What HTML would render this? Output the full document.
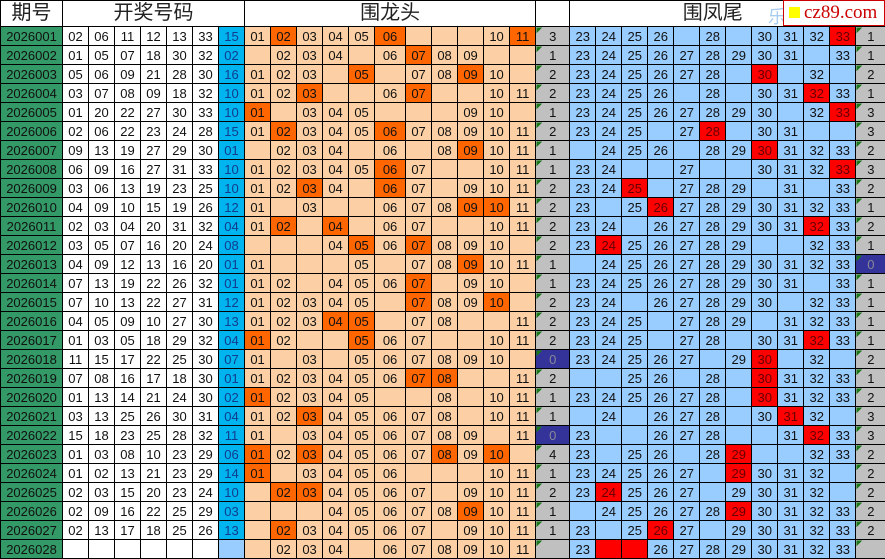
<!DOCTYPE html>
<html><head><meta charset="utf-8"><style>
html,body{margin:0;padding:0;background:#fff;}
body{width:885px;height:558px;overflow:hidden;position:relative;font-family:"Liberation Sans","Noto Sans CJK SC",sans-serif;}
table{border-collapse:collapse;table-layout:fixed;width:885px;position:absolute;left:0;top:0;}
td{border:1px solid #000;padding:0;text-align:center;font-size:13px;line-height:17px;height:18px;overflow:hidden;white-space:nowrap;color:#111;}
tr.hd td{height:25px;background:#fff;font-size:20px;color:#222;line-height:25px;}
col.g{background:#339966}col.w{background:#fff}col.b{background:#00b4f0}col.o{background:#fcd0a4}col.c{background:#c0c0c0}col.l{background:#99ccff}
td.h{background:#ff6600;}
td.r{background:#ff0000;color:#600;}
.b2 td:nth-child(8){color:#123c8c}
td.t{background-image:linear-gradient(135deg,#1a7a1a 4px,transparent 4px);}
td.d{background-color:#333399;color:#889;}
tr.last td:nth-child(8){background:#99ccff}
.logo{position:absolute;left:783px;top:0;width:100px;height:24px;background:#fff;border:1px solid #c00;}
.logo i{position:absolute;left:5px;top:6px;width:11px;height:11px;background:#ffff00;}
.logo span{position:absolute;left:20px;top:1px;font-family:"Liberation Serif",serif;font-size:19px;color:#c00;line-height:22px;}
.le{position:absolute;left:768px;top:3px;font-size:18px;color:#a8cdf0;}
</style></head><body>
<table>
<colgroup><col class=g style="width:62px"><col class=w style="width:26px"><col class=w style="width:26px"><col class=w style="width:26px"><col class=w style="width:26px"><col class=w style="width:26px"><col class=w style="width:26px"><col class=b style="width:26px"><col class=o style="width:26px"><col class=o style="width:26px"><col class=o style="width:26px"><col class=o style="width:26px"><col class=o style="width:26px"><col class=o style="width:31px"><col class=o style="width:26px"><col class=o style="width:26px"><col class=o style="width:26px"><col class=o style="width:26px"><col class=o style="width:26px"><col class=c style="width:34px"><col class=l style="width:26px"><col class=l style="width:26px"><col class=l style="width:26px"><col class=l style="width:26px"><col class=l style="width:26px"><col class=l style="width:26px"><col class=l style="width:26px"><col class=l style="width:26px"><col class=l style="width:26px"><col class=l style="width:26px"><col class=l style="width:26px"><col class=c style="width:30px"></colgroup>
<tbody class=b2>
<tr class=hd><td>期号</td><td colspan=7>开奖号码</td><td colspan=11>围龙头</td><td></td><td colspan=11>围凤尾</td><td></td></tr>
<tr><td>2026001</td><td>02</td><td>06</td><td>11</td><td>12</td><td>13</td><td>33</td><td>15</td><td>01</td><td class=h>02</td><td>03</td><td>04</td><td>05</td><td class=h>06</td><td></td><td></td><td></td><td>10</td><td class=h>11</td><td class=t>3</td><td>23</td><td>24</td><td>25</td><td>26</td><td></td><td>28</td><td></td><td>30</td><td>31</td><td>32</td><td class=r>33</td><td class=t>1</td></tr>
<tr><td>2026002</td><td>01</td><td>05</td><td>07</td><td>18</td><td>30</td><td>32</td><td>02</td><td></td><td>02</td><td>03</td><td>04</td><td></td><td>06</td><td class=h>07</td><td>08</td><td>09</td><td></td><td></td><td class=t>1</td><td>23</td><td>24</td><td>25</td><td>26</td><td>27</td><td>28</td><td>29</td><td>30</td><td>31</td><td></td><td>33</td><td class=t>1</td></tr>
<tr><td>2026003</td><td>05</td><td>06</td><td>09</td><td>21</td><td>28</td><td>30</td><td>16</td><td>01</td><td>02</td><td>03</td><td></td><td class=h>05</td><td></td><td>07</td><td>08</td><td class=h>09</td><td>10</td><td></td><td class=t>2</td><td>23</td><td>24</td><td>25</td><td>26</td><td>27</td><td>28</td><td></td><td class=r>30</td><td></td><td>32</td><td></td><td class=t>2</td></tr>
<tr><td>2026004</td><td>03</td><td>07</td><td>08</td><td>09</td><td>18</td><td>32</td><td>10</td><td>01</td><td>02</td><td class=h>03</td><td></td><td></td><td>06</td><td class=h>07</td><td></td><td></td><td>10</td><td>11</td><td class=t>2</td><td>23</td><td>24</td><td>25</td><td>26</td><td></td><td>28</td><td></td><td>30</td><td>31</td><td class=r>32</td><td>33</td><td class=t>1</td></tr>
<tr><td>2026005</td><td>01</td><td>20</td><td>22</td><td>27</td><td>30</td><td>33</td><td>10</td><td class=h>01</td><td></td><td>03</td><td>04</td><td>05</td><td></td><td></td><td></td><td>09</td><td>10</td><td></td><td class=t>1</td><td>23</td><td>24</td><td>25</td><td>26</td><td>27</td><td>28</td><td>29</td><td>30</td><td></td><td>32</td><td class=r>33</td><td class=t>3</td></tr>
<tr><td>2026006</td><td>02</td><td>06</td><td>22</td><td>23</td><td>24</td><td>28</td><td>15</td><td>01</td><td class=h>02</td><td>03</td><td>04</td><td>05</td><td class=h>06</td><td>07</td><td>08</td><td>09</td><td>10</td><td>11</td><td class=t>2</td><td>23</td><td>24</td><td>25</td><td></td><td>27</td><td class=r>28</td><td></td><td>30</td><td>31</td><td></td><td></td><td class=t>3</td></tr>
<tr><td>2026007</td><td>09</td><td>13</td><td>19</td><td>27</td><td>29</td><td>30</td><td>01</td><td></td><td>02</td><td>03</td><td>04</td><td></td><td>06</td><td></td><td>08</td><td class=h>09</td><td>10</td><td>11</td><td class=t>1</td><td></td><td>24</td><td>25</td><td>26</td><td></td><td>28</td><td>29</td><td class=r>30</td><td>31</td><td>32</td><td>33</td><td class=t>2</td></tr>
<tr><td>2026008</td><td>06</td><td>09</td><td>16</td><td>27</td><td>31</td><td>33</td><td>10</td><td>01</td><td>02</td><td>03</td><td>04</td><td>05</td><td class=h>06</td><td>07</td><td></td><td></td><td>10</td><td>11</td><td class=t>1</td><td>23</td><td>24</td><td></td><td></td><td>27</td><td></td><td></td><td>30</td><td>31</td><td>32</td><td class=r>33</td><td class=t>3</td></tr>
<tr><td>2026009</td><td>03</td><td>06</td><td>13</td><td>19</td><td>23</td><td>25</td><td>10</td><td>01</td><td>02</td><td class=h>03</td><td>04</td><td></td><td class=h>06</td><td>07</td><td></td><td>09</td><td>10</td><td>11</td><td class=t>2</td><td>23</td><td>24</td><td class=r>25</td><td></td><td>27</td><td>28</td><td>29</td><td></td><td>31</td><td></td><td>33</td><td class=t>2</td></tr>
<tr><td>2026010</td><td>04</td><td>09</td><td>10</td><td>15</td><td>19</td><td>26</td><td>12</td><td>01</td><td></td><td>03</td><td></td><td></td><td>06</td><td>07</td><td>08</td><td class=h>09</td><td class=h>10</td><td>11</td><td class=t>2</td><td>23</td><td></td><td>25</td><td class=r>26</td><td>27</td><td>28</td><td>29</td><td>30</td><td>31</td><td>32</td><td>33</td><td class=t>1</td></tr>
<tr><td>2026011</td><td>02</td><td>03</td><td>04</td><td>20</td><td>31</td><td>32</td><td>04</td><td>01</td><td class=h>02</td><td></td><td class=h>04</td><td></td><td>06</td><td>07</td><td></td><td></td><td>10</td><td>11</td><td class=t>2</td><td>23</td><td>24</td><td></td><td>26</td><td>27</td><td>28</td><td>29</td><td>30</td><td>31</td><td class=r>32</td><td>33</td><td class=t>2</td></tr>
<tr><td>2026012</td><td>03</td><td>05</td><td>07</td><td>16</td><td>20</td><td>24</td><td>08</td><td></td><td></td><td></td><td>04</td><td class=h>05</td><td>06</td><td class=h>07</td><td>08</td><td>09</td><td>10</td><td></td><td class=t>2</td><td>23</td><td class=r>24</td><td>25</td><td>26</td><td>27</td><td>28</td><td>29</td><td></td><td></td><td>32</td><td>33</td><td class=t>1</td></tr>
<tr><td>2026013</td><td>04</td><td>09</td><td>12</td><td>13</td><td>16</td><td>20</td><td>01</td><td>01</td><td></td><td></td><td></td><td>05</td><td></td><td>07</td><td>08</td><td class=h>09</td><td>10</td><td>11</td><td class=t>1</td><td></td><td>24</td><td>25</td><td>26</td><td>27</td><td>28</td><td>29</td><td>30</td><td>31</td><td>32</td><td>33</td><td class="t d">0</td></tr>
<tr><td>2026014</td><td>07</td><td>13</td><td>19</td><td>22</td><td>26</td><td>32</td><td>01</td><td>01</td><td>02</td><td></td><td>04</td><td>05</td><td>06</td><td class=h>07</td><td></td><td>09</td><td>10</td><td></td><td class=t>1</td><td>23</td><td>24</td><td>25</td><td>26</td><td>27</td><td>28</td><td>29</td><td>30</td><td>31</td><td></td><td>33</td><td class=t>1</td></tr>
<tr><td>2026015</td><td>07</td><td>10</td><td>13</td><td>22</td><td>27</td><td>31</td><td>12</td><td>01</td><td>02</td><td>03</td><td>04</td><td>05</td><td></td><td class=h>07</td><td>08</td><td>09</td><td class=h>10</td><td></td><td class=t>2</td><td>23</td><td>24</td><td></td><td>26</td><td>27</td><td>28</td><td>29</td><td>30</td><td></td><td>32</td><td>33</td><td class=t>1</td></tr>
<tr><td>2026016</td><td>04</td><td>05</td><td>09</td><td>10</td><td>27</td><td>30</td><td>13</td><td>01</td><td>02</td><td>03</td><td class=h>04</td><td class=h>05</td><td></td><td>07</td><td>08</td><td></td><td></td><td>11</td><td class=t>2</td><td>23</td><td>24</td><td>25</td><td></td><td>27</td><td>28</td><td>29</td><td></td><td>31</td><td>32</td><td>33</td><td class=t>1</td></tr>
<tr><td>2026017</td><td>01</td><td>03</td><td>05</td><td>18</td><td>29</td><td>32</td><td>04</td><td class=h>01</td><td>02</td><td></td><td></td><td class=h>05</td><td>06</td><td>07</td><td></td><td></td><td>10</td><td>11</td><td class=t>2</td><td>23</td><td>24</td><td>25</td><td></td><td>27</td><td>28</td><td></td><td>30</td><td>31</td><td class=r>32</td><td>33</td><td class=t>1</td></tr>
<tr><td>2026018</td><td>11</td><td>15</td><td>17</td><td>22</td><td>25</td><td>30</td><td>07</td><td>01</td><td></td><td>03</td><td></td><td>05</td><td>06</td><td>07</td><td>08</td><td>09</td><td>10</td><td></td><td class="t d">0</td><td>23</td><td>24</td><td>25</td><td>26</td><td>27</td><td></td><td>29</td><td class=r>30</td><td></td><td>32</td><td></td><td class=t>2</td></tr>
<tr><td>2026019</td><td>07</td><td>08</td><td>16</td><td>17</td><td>18</td><td>30</td><td>01</td><td>01</td><td>02</td><td>03</td><td>04</td><td>05</td><td>06</td><td class=h>07</td><td class=h>08</td><td></td><td></td><td>11</td><td class=t>2</td><td></td><td></td><td>25</td><td>26</td><td></td><td>28</td><td></td><td class=r>30</td><td>31</td><td>32</td><td>33</td><td class=t>1</td></tr>
<tr><td>2026020</td><td>01</td><td>13</td><td>14</td><td>21</td><td>24</td><td>30</td><td>02</td><td class=h>01</td><td>02</td><td>03</td><td>04</td><td>05</td><td></td><td></td><td>08</td><td></td><td>10</td><td>11</td><td class=t>1</td><td>23</td><td>24</td><td>25</td><td>26</td><td>27</td><td>28</td><td></td><td class=r>30</td><td>31</td><td>32</td><td>33</td><td class=t>2</td></tr>
<tr><td>2026021</td><td>03</td><td>13</td><td>25</td><td>26</td><td>30</td><td>31</td><td>04</td><td>01</td><td>02</td><td class=h>03</td><td>04</td><td>05</td><td>06</td><td>07</td><td>08</td><td></td><td>10</td><td>11</td><td class=t>1</td><td></td><td>24</td><td></td><td>26</td><td>27</td><td>28</td><td></td><td>30</td><td class=r>31</td><td>32</td><td></td><td class=t>3</td></tr>
<tr><td>2026022</td><td>15</td><td>18</td><td>23</td><td>25</td><td>28</td><td>32</td><td>11</td><td>01</td><td></td><td>03</td><td>04</td><td>05</td><td>06</td><td>07</td><td>08</td><td>09</td><td></td><td>11</td><td class="t d">0</td><td>23</td><td></td><td></td><td>26</td><td>27</td><td>28</td><td></td><td></td><td>31</td><td class=r>32</td><td>33</td><td class=t>3</td></tr>
<tr><td>2026023</td><td>01</td><td>03</td><td>08</td><td>10</td><td>23</td><td>29</td><td>06</td><td class=h>01</td><td>02</td><td class=h>03</td><td>04</td><td>05</td><td>06</td><td>07</td><td class=h>08</td><td>09</td><td class=h>10</td><td></td><td class=t>4</td><td>23</td><td></td><td>25</td><td>26</td><td></td><td>28</td><td class=r>29</td><td></td><td></td><td>32</td><td>33</td><td class=t>2</td></tr>
<tr><td>2026024</td><td>01</td><td>02</td><td>13</td><td>21</td><td>23</td><td>29</td><td>14</td><td class=h>01</td><td></td><td>03</td><td>04</td><td>05</td><td>06</td><td></td><td></td><td></td><td>10</td><td>11</td><td class=t>1</td><td>23</td><td>24</td><td>25</td><td>26</td><td>27</td><td></td><td class=r>29</td><td>30</td><td>31</td><td>32</td><td></td><td class=t>2</td></tr>
<tr><td>2026025</td><td>02</td><td>03</td><td>15</td><td>20</td><td>23</td><td>24</td><td>10</td><td></td><td class=h>02</td><td class=h>03</td><td>04</td><td>05</td><td>06</td><td>07</td><td></td><td>09</td><td>10</td><td>11</td><td class=t>2</td><td>23</td><td class=r>24</td><td>25</td><td>26</td><td>27</td><td></td><td>29</td><td>30</td><td>31</td><td>32</td><td></td><td class=t>2</td></tr>
<tr><td>2026026</td><td>02</td><td>09</td><td>16</td><td>22</td><td>25</td><td>29</td><td>03</td><td></td><td></td><td></td><td>04</td><td>05</td><td>06</td><td>07</td><td>08</td><td class=h>09</td><td>10</td><td>11</td><td class=t>1</td><td></td><td>24</td><td>25</td><td>26</td><td>27</td><td>28</td><td class=r>29</td><td>30</td><td>31</td><td>32</td><td>33</td><td class=t>2</td></tr>
<tr><td>2026027</td><td>02</td><td>13</td><td>17</td><td>18</td><td>25</td><td>26</td><td>13</td><td></td><td class=h>02</td><td>03</td><td>04</td><td>05</td><td>06</td><td>07</td><td></td><td>09</td><td>10</td><td>11</td><td class=t>1</td><td>23</td><td></td><td>25</td><td class=r>26</td><td>27</td><td></td><td>29</td><td>30</td><td>31</td><td>32</td><td>33</td><td class=t>2</td></tr>
<tr class=last><td>2026028</td><td></td><td></td><td></td><td></td><td></td><td></td><td></td><td></td><td>02</td><td>03</td><td>04</td><td></td><td>06</td><td>07</td><td>08</td><td>09</td><td>10</td><td>11</td><td class=t></td><td>23</td><td class=r></td><td class=r></td><td>26</td><td>27</td><td>28</td><td>29</td><td>30</td><td>31</td><td>32</td><td>33</td><td class=t></td></tr>
</tbody></table>
<div class=le>乐</div>
<div class=logo><i></i><span>cz89.com</span></div>
</body></html>
